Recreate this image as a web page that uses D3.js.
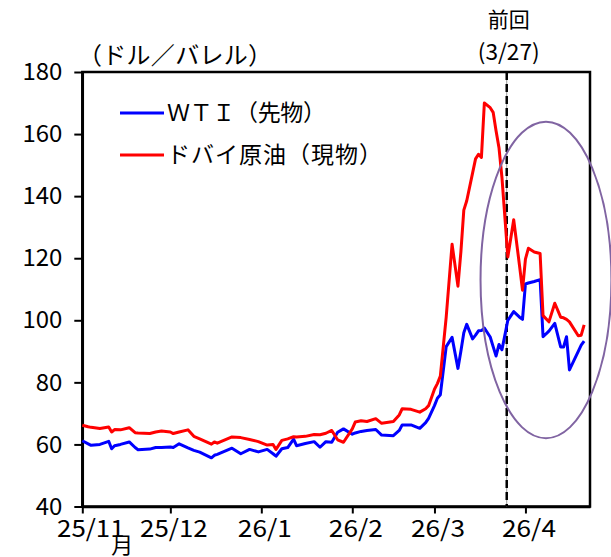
<!DOCTYPE html>
<html><head><meta charset="utf-8">
<script src="https://cdn.jsdelivr.net/npm/d3@7/dist/d3.min.js"></script>
<style>
html,body{margin:0;padding:0;background:#fff;}
svg text{font-family:"Noto Sans CJK JP","Noto Sans",sans-serif;}
</style>
</head><body>
<svg id="chart" width="611" height="557"></svg>
<script>
const dates = [
 "2025-11-01","2025-11-03","2025-11-04","2025-11-07","2025-11-10","2025-11-11","2025-11-12","2025-11-14","2025-11-17","2025-11-19","2025-11-20","2025-11-24","2025-11-26","2025-11-28",
 "2025-12-01","2025-12-02","2025-12-04","2025-12-07","2025-12-09","2025-12-11","2025-12-15","2025-12-16","2025-12-17","2025-12-22","2025-12-25","2025-12-28","2025-12-31",
 "2026-01-03","2026-01-05","2026-01-06","2026-01-08","2026-01-10","2026-01-12","2026-01-13","2026-01-16","2026-01-19","2026-01-21","2026-01-23","2026-01-25","2026-01-27","2026-01-29",
 "2026-02-01","2026-02-02","2026-02-04","2026-02-06","2026-02-09","2026-02-11","2026-02-15","2026-02-17","2026-02-18","2026-02-21","2026-02-24","2026-02-26","2026-02-27",
 "2026-03-01","2026-03-02","2026-03-03","2026-03-05","2026-03-07","2026-03-09","2026-03-10","2026-03-11","2026-03-12","2026-03-14","2026-03-15","2026-03-16","2026-03-17","2026-03-18","2026-03-20","2026-03-21","2026-03-22","2026-03-23","2026-03-24","2026-03-26","2026-03-28","2026-03-30","2026-03-31",
 "2026-04-01","2026-04-02","2026-04-04","2026-04-06","2026-04-07","2026-04-09","2026-04-11","2026-04-13","2026-04-14","2026-04-15","2026-04-16","2026-04-19","2026-04-20","2026-04-21"
];
const dubai = [
 66.2,65.7,65.5,65.1,65.6,64.0,64.8,64.7,65.4,63.8,63.7,63.5,64.0,64.3,
 64.0,63.5,64.0,64.7,62.6,61.8,60.1,60.8,60.4,62.4,62.2,61.6,60.9,
 59.8,60.0,58.4,61.3,61.8,62.5,62.4,62.6,63.2,63.1,63.6,64.5,61.5,60.7,
 65.0,67.2,67.6,67.4,68.3,66.8,67.4,69.5,71.5,71.3,70.4,71.5,72.5,
 77.8,79.6,82.0,101.0,124.5,111.0,122.0,135.5,138.5,147.5,152.0,153.5,152.5,170.0,168.5,167.0,161.0,155.5,146.0,120.4,132.4,117.5,109.7,
 119.7,123.2,122.0,121.5,101.5,99.5,105.5,101.0,100.8,100.3,99.5,95.0,95.2,98.5
];
const wti = [
 61.2,60.2,59.7,60.0,61.0,58.6,59.6,60.0,60.8,59.0,58.3,58.5,59.0,59.0,
 59.2,59.0,60.2,58.9,58.1,57.5,55.7,56.5,56.8,58.8,57.0,58.4,57.6,
 58.4,57.0,56.2,58.6,59.0,61.7,59.6,60.3,60.9,59.1,60.9,60.7,63.9,65.0,
 63.3,63.7,64.2,64.5,64.8,63.0,62.8,64.5,66.3,66.3,65.2,67.0,68.4,
 72.5,74.9,76.0,91.5,94.5,84.5,90.0,96.0,98.7,94.0,95.2,96.6,96.7,97.5,94.6,91.5,88.5,92.2,90.5,100.0,102.8,101.0,100.3,
 111.7,112.0,112.5,113.1,94.7,96.5,99.0,91.4,91.4,94.7,84.0,90.0,92.0,93.3
];
const seriesNames = ["ＷＴＩ（先物）","ドバイ原油（現物）"];
const seriesColors = ["#0000FF","#FF0000"];
const tickDates = ["2025-11-01","2025-12-01","2026-01-01","2026-02-01","2026-03-01","2026-04-01"];
const tickLabels = ["25/11","25/12","26/1","26/2","26/3","26/4"];
const yTicks = [40,60,80,100,120,140,160,180];
const yTitle = "（ドル／バレル）";
const markerDate = "2026-03-25T15:00";
const markerLabel = ["前回","(3/27)"];
const ellipseCenter = ["2026-04-08", 113];
const ellipseSpan = [22.3, 51]; // days, dollars

const parse = s => new Date(s);
const svg = d3.select("#chart");
const x = d3.scaleTime().domain([parse("2025-11-01T00:00"), parse("2026-04-23T00:00")]).range([82.3, 590]);
const y = d3.scaleLinear().domain([40,180]).range([506.5, 72]);
const narrow = "'Liberation Sans Narrow','Noto Sans CJK JP',sans-serif";

// plot frame
svg.append("rect").attr("x",x.range()[0]).attr("y",y(180)).attr("width",x.range()[1]-x.range()[0]).attr("height",y(40)-y(180))
  .attr("fill","none").attr("stroke","#000").attr("stroke-width",2.5);

// y axis
const ya = svg.append("g").attr("transform",`translate(${x.range()[0]},0)`)
  .call(d3.axisLeft(y).tickValues(yTicks).tickSize(8).tickSizeOuter(0).tickPadding(12));
ya.select(".domain").attr("stroke-width",2.5);
ya.selectAll(".tick line").attr("stroke-width",2);
ya.selectAll(".tick text").attr("font-size",24).attr("fill","#000").attr("font-family",narrow)
  .attr("textLength",d=>String(d).length*13.3).attr("lengthAdjust","spacingAndGlyphs");

// x axis
const xa = svg.append("g").attr("transform",`translate(0,${y(40)})`)
  .call(d3.axisBottom(x).tickValues(tickDates.map(parse)).tickSize(7).tickSizeOuter(0).tickPadding(6)
    .tickFormat((d,i)=>tickLabels[i]));
xa.select(".domain").attr("stroke-width",2.5);
xa.selectAll(".tick line").attr("stroke-width",2);
xa.selectAll(".tick text").attr("font-size",24).attr("fill","#000").attr("dx",(d,i)=>i===0?8:3)
  .attr("font-family",narrow)
  .attr("textLength",(d,i)=>tickLabels[i].length*13.5).attr("lengthAdjust","spacingAndGlyphs");
svg.append("text").attr("x",x(parse(tickDates[0]))+40).attr("y",553).attr("font-size",22).attr("text-anchor","middle").text("月");

// marker line
const mx = x(parse(markerDate));
svg.append("line").attr("x1",mx).attr("x2",mx).attr("y1",y(180)).attr("y2",y(40)).attr("stroke","#999").attr("stroke-width",1);
svg.append("line").attr("x1",mx).attr("x2",mx).attr("y1",y(180)).attr("y2",y(40)).attr("stroke","#000").attr("stroke-width",2.5).attr("stroke-dasharray","8,4");
svg.append("text").attr("x",mx+2).attr("y",27).attr("text-anchor","middle").attr("font-size",21).text(markerLabel[0]);
svg.append("text").attr("x",mx+2).attr("y",60).attr("text-anchor","middle").attr("font-size",22)
  .attr("font-family",narrow).attr("textLength",62).attr("lengthAdjust","spacingAndGlyphs").text(markerLabel[1]);

// y title
svg.append("text").attr("x",78).attr("y",64).attr("font-size",24)
  .attr("textLength",194).attr("lengthAdjust","spacing").text(yTitle);

// lines
const rows = dates.map((d,i)=>({date:parse(d), wti:wti[i], dubai:dubai[i]}));
const line = key => d3.line().x(d=>x(d.date)).y(d=>y(d[key]));
svg.append("path").datum(rows).attr("d",line("wti")).attr("fill","none").attr("stroke",seriesColors[0]).attr("stroke-width",3).attr("stroke-linejoin","round");
svg.append("path").datum(rows).attr("d",line("dubai")).attr("fill","none").attr("stroke",seriesColors[1]).attr("stroke-width",3).attr("stroke-linejoin","round");

// ellipse annotation
const ecx = x(parse(ellipseCenter[0])), ecy = y(ellipseCenter[1]);
const erx = x(new Date(parse(ellipseCenter[0]).getTime()+ellipseSpan[0]*86400000)) - ecx;
const ery = y(ellipseCenter[1]-ellipseSpan[1]) - ecy;
svg.append("ellipse").attr("cx",ecx).attr("cy",ecy).attr("rx",erx).attr("ry",ery)
  .attr("fill","none").attr("stroke","#8064A2").attr("stroke-width",2);

// legend
const lg = svg.append("g");
const legendWidths = [159, 215];
seriesNames.forEach((n,i)=>{
  const ly = 113 + i*42;
  lg.append("line").attr("x1",120).attr("x2",164).attr("y1",ly).attr("y2",ly).attr("stroke",seriesColors[i]).attr("stroke-width",3);
  lg.append("text").attr("x",167).attr("y",ly).attr("dy","0.36em").attr("font-size",23)
    .attr("textLength",legendWidths[i]).attr("lengthAdjust","spacing").text(n);
});
</script>
</body></html>
